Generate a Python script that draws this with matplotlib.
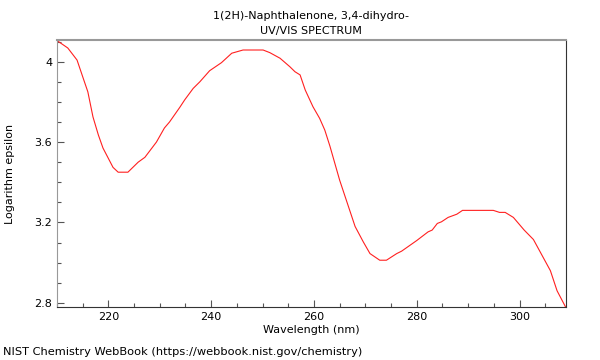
import matplotlib
matplotlib.use("Agg")
import matplotlib.pyplot as plt
from matplotlib.ticker import MultipleLocator, FormatStrFormatter

# values
wavelength = [210.0, 212.1, 213.9, 215.2, 216.0, 217.0, 218.05, 218.95, 220.9, 221.9,
              223.8, 225.8, 227.1, 229.35, 230.9, 231.9, 233.9, 234.85, 236.5, 237.8,
              239.7, 242.0, 244.0, 246.2, 250.1, 251.4, 253.4, 255.3, 256.3, 257.3,
              258.3, 259.8, 261.1, 262.1, 263.1, 265.0, 268.0, 269.6, 270.9, 272.8,
              274.1, 276.1, 277.05, 280.0, 282.2, 283.0, 284.0, 284.8, 286.1, 287.8,
              288.9, 294.9, 296.1, 297.2, 298.8, 300.9, 302.7, 304.0, 306.0, 307.3,
              309.0]
log_eps = [4.105, 4.068, 4.008, 3.91, 3.85, 3.725, 3.635, 3.57, 3.474, 3.45,
           3.45, 3.50, 3.524, 3.60, 3.67, 3.70, 3.773, 3.81, 3.867, 3.90,
           3.955, 3.995, 4.042, 4.058, 4.058, 4.045, 4.017, 3.975, 3.95, 3.934,
           3.859, 3.776, 3.718, 3.66, 3.58, 3.41, 3.18, 3.103, 3.045, 3.012,
           3.012, 3.045, 3.057, 3.11, 3.153, 3.162, 3.195, 3.203, 3.225, 3.241,
           3.26, 3.26, 3.25, 3.25, 3.225, 3.162, 3.115, 3.054, 2.96, 2.86,
           2.777]

fig = plt.figure(figsize=(6, 3.6), dpi=100)
ax = fig.add_axes([0.095, 0.146, 0.848, 0.743])

ax.plot(wavelength, log_eps, color="#ff2020", linewidth=0.8)

ax.set_xlim(210, 309)
ax.set_ylim(2.777, 4.108)

ax.xaxis.set_major_locator(MultipleLocator(20))
ax.xaxis.set_minor_locator(MultipleLocator(5))
ax.yaxis.set_major_locator(MultipleLocator(0.4))
ax.yaxis.set_minor_locator(MultipleLocator(0.1))
ax.yaxis.set_major_formatter(FormatStrFormatter("%g"))
ax.tick_params(which="both", direction="in", labelsize=8, color="#555555")
ax.tick_params(which="major", length=5, width=0.8)
ax.tick_params(which="minor", length=3, width=0.8)

for side in ["top", "left"]:
    ax.spines[side].set_color("#999999")
for side in ["bottom", "right"]:
    ax.spines[side].set_color("#333333")
ax.spines["top"].set_linewidth(1.5)

ax.set_xlabel("Wavelength (nm)", fontsize=8, labelpad=2)
ax.set_ylabel("Logarithm epsilon", fontsize=8, labelpad=14)
ax.set_title("1(2H)-Naphthalenone, 3,4-dihydro-\nUV/VIS SPECTRUM", fontsize=8,
             pad=4, linespacing=1.7)

fig.text(0.005, 0.013, "NIST Chemistry WebBook (https://webbook.nist.gov/chemistry)", fontsize=8.2)

fig.savefig("out.png", dpi=100)
